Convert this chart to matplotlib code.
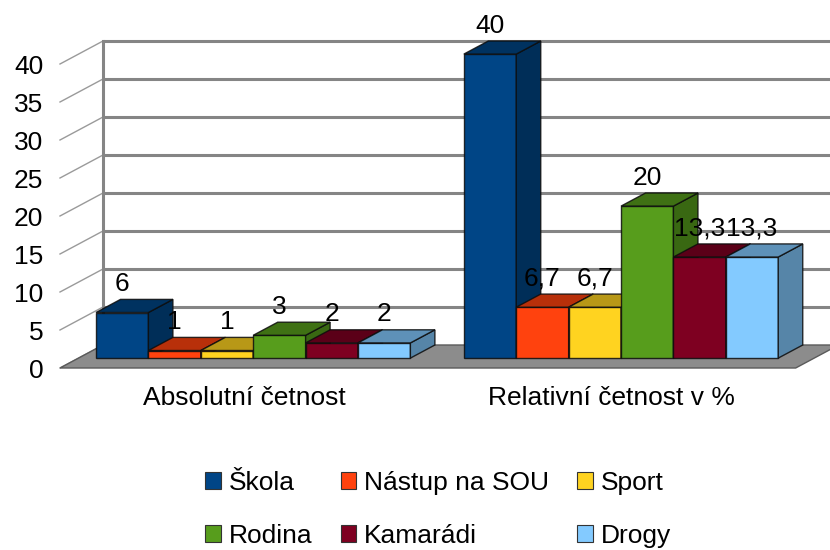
import numpy as np
import matplotlib
matplotlib.use("Agg")
import matplotlib.pyplot as plt
from matplotlib.patches import Polygon, Rectangle, Patch
from matplotlib.colors import to_rgb

plt.rcParams["font.family"] = ["Liberation Sans", "DejaVu Sans"]

categories = ["Absolutní četnost", "Relativní četnost v %"]
series = ["Škola", "Nástup na SOU", "Sport", "Rodina", "Kamarádi", "Drogy"]
absolutni = [6, 1, 1, 3, 2, 2]
relativni = [40, 6.7, 6.7, 20, 13.3, 13.3]
colors = ["#004586", "#ff420e", "#ffd320", "#579d1c", "#7e0021", "#83caff"]
yticks = [0, 5, 10, 15, 20, 25, 30, 35, 40]

values = [absolutni, relativni]
FS = 19

W, H = 830, 550
fig = plt.figure(figsize=(W / 100, H / 100), dpi=100)
ax = fig.add_axes([60 / W, 182 / H, 770 / W, 304 / H])
px_x = 52.4   # pixels per bar width
px_y = 7.6    # pixels per value unit
ax.set_xlim(0, 770 / px_x)
ax.set_ylim(0, 40)
for s in ax.spines.values():
    s.set_visible(False)

# depth of the 3D box (data units)
DX = 43 / px_x
DY = 23 / px_y
d0 = 0.43           # bars start at this depth
bdx = (1 - d0) * DX
bdy = (1 - d0) * DY

slot = 7.02
centers = np.arange(len(categories)) * slot + slot / 2
front_end = slot * len(categories)
xmax = 770 / px_x

grid_c = "#858585"
# floor
ax.add_patch(Polygon([(0, 0), (front_end, 0), (front_end + DX, DY), (DX, DY)],
                     closed=True, facecolor="#8c8c8c", edgecolor="#5a5a5a",
                     lw=1.0, clip_on=False, zorder=1))
# back wall grid and side wall diagonals
for v in yticks:
    if v > 0:
        ax.plot([DX, xmax], [v + DY, v + DY], color=grid_c, lw=2.2,
                clip_on=False, zorder=0.5, solid_capstyle="butt")
    ax.plot([0, DX], [v, v + DY], color="#9a9a9a", lw=1.0,
            clip_on=False, zorder=0.5)
ax.plot([DX, DX], [DY, 40 + DY], color=grid_c, lw=2.2, clip_on=False, zorder=0.6)


def shade(c, f):
    r, g, b = to_rgb(c)
    return (r * f, g * f, b * f)


edge = (0.05, 0.05, 0.05, 0.85)
z = 2
for g, vals in enumerate(values):
    start = centers[g] - 3.176
    for i, v in enumerate(vals):
        xl = start + i + d0 * DX
        yb = d0 * DY
        c = colors[i]
        ax.add_patch(Rectangle((xl, yb), 1, v, facecolor=c, edgecolor=edge,
                               lw=1.0, clip_on=False, zorder=z))
        ax.add_patch(Polygon([(xl + 1, yb), (xl + 1 + bdx, yb + bdy),
                              (xl + 1 + bdx, yb + v + bdy), (xl + 1, yb + v)],
                             closed=True, facecolor=shade(c, 0.66), edgecolor=edge,
                             lw=1.0, clip_on=False, zorder=z))
        ax.add_patch(Polygon([(xl, yb + v), (xl + 1, yb + v),
                              (xl + 1 + bdx, yb + v + bdy), (xl + bdx, yb + v + bdy)],
                             closed=True, facecolor=shade(c, 0.72), edgecolor=edge,
                             lw=1.0, clip_on=False, zorder=z))
        z += 1
        lbl = f"{v:g}".replace(".", ",")
        ax.annotate(lbl, (xl + 0.5, yb + v), xytext=(0, 20.5), textcoords="offset points",
                    ha="center", va="center", fontsize=FS, color="black", zorder=50,
                    annotation_clip=False)

ax.set_yticks(yticks)
ax.set_yticklabels([str(t) for t in yticks], fontsize=FS)
ax.set_xticks(centers)
ax.set_xticklabels(categories, fontsize=FS)
ax.tick_params(axis="y", length=0, pad=12)
ax.tick_params(axis="x", length=0, pad=13)
ax.set_facecolor("none")

order = [0, 3, 1, 4, 2, 5]
handles = [Patch(facecolor=colors[k], edgecolor="#333333", lw=0.8) for k in order]
labels = [series[k] for k in order]
fig.legend(handles, labels, loc="center", bbox_to_anchor=(0.528, 0.074), ncol=3,
           frameon=False, fontsize=FS, handlelength=0.6, handleheight=0.6,
           handletextpad=0.3, columnspacing=1.05, labelspacing=1.1)

fig.savefig("out.png", dpi=100)
